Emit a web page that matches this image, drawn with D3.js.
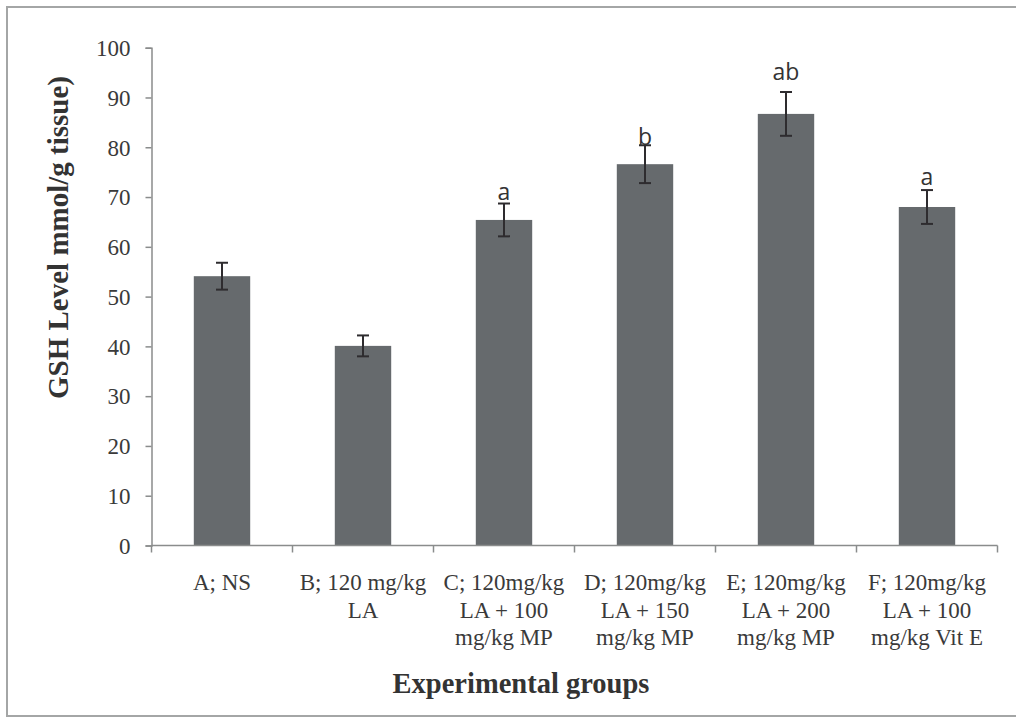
<!DOCTYPE html>
<html>
<head>
<meta charset="utf-8">
<script src="https://cdn.jsdelivr.net/npm/d3@7"></script>
<style>
  body { margin: 0; background: #fff; }
  svg { display: block; }
</style>
</head>
<body>
<div id="chart"></div>
<script>
// Data
var groups    = ['A', 'B', 'C', 'D', 'E', 'F']
var labels    = [
    ['A; NS'],
    ['B; 120 mg/kg', 'LA'],
    ['C; 120mg/kg', 'LA + 100', 'mg/kg MP'],
    ['D; 120mg/kg', 'LA + 150', 'mg/kg MP'],
    ['E; 120mg/kg', 'LA + 200', 'mg/kg MP'],
    ['F; 120mg/kg', 'LA + 100', 'mg/kg Vit E']
]
var gsh       = [54.1, 40.1, 65.4, 76.6, 86.7, 68.0]
var gsh_err   = [2.7, 2.1, 3.3, 3.8, 4.4, 3.4]
var letters   = ['', '', 'a', 'b', 'ab', 'a']
var letter_at = [0, 0, 69.5, 80.5, 93.5, 72.5]   // value where each letter sits
var y_ticks   = [0, 10, 20, 30, 40, 50, 60, 70, 80, 90, 100]

var width  = 1016
var height = 717

var x = d3.scaleBand()
    .domain(groups)
    .range([151.5, 997.5])
    .paddingInner(0.6)
    .paddingOuter(0.3)
var xTick = d3.scaleLinear().domain([0, groups.length]).range([151.5, 997.5])

var y = d3.scaleLinear().domain([0, 100]).range([545.5, 47.7])

var svg = d3.select('#chart').append('svg')
    .attr('width',  width)
    .attr('height', height)

// frame
svg.append('rect')
    .attr('x', 7).attr('y', 7)
    .attr('width', 1016).attr('height', 709)
    .attr('fill', 'none')
    .attr('stroke', '#a4a6a6')
    .attr('stroke-width', 2)

// y axis
var yAxis = svg.append('g')
    .attr('transform', 'translate(151.5,0)')
    .call(d3.axisLeft(y).tickValues(y_ticks).tickSize(6).tickPadding(15).tickFormat(d3.format('d')))
yAxis.select('.domain').attr('stroke', '#8a8c8c').attr('stroke-width', 1.5)
yAxis.selectAll('.tick line').attr('stroke', '#8a8c8c').attr('stroke-width', 1.5)
yAxis.selectAll('.tick text')
    .attr('font-family', '"Liberation Serif", "Times New Roman", serif')
    .attr('font-size', 23)
    .attr('fill', '#3a3a3a')
    .attr('dy', '0.34em')

// bars
svg.selectAll('rect.bar').data(groups).enter()
    .append('rect')
    .attr('class', 'bar')
    .attr('x',      d => x(d))
    .attr('width',  x.bandwidth())
    .attr('y',      (d, i) => y(gsh[i]))
    .attr('height', (d, i) => y(0) - y(gsh[i]))
    .attr('fill', '#666a6d')

// x axis
svg.append('line')
    .attr('x1', 151.5).attr('x2', 997.5)
    .attr('y1', y(0)).attr('y2', y(0))
    .attr('stroke', '#8a8c8c').attr('stroke-width', 1.5)
svg.selectAll('line.xtick').data(d3.range(groups.length + 1)).enter()
    .append('line')
    .attr('class', 'xtick')
    .attr('x1', d => xTick(d)).attr('x2', d => xTick(d))
    .attr('y1', y(0)).attr('y2', y(0) + 7)
    .attr('stroke', '#8a8c8c').attr('stroke-width', 1.5)

// error bars
var err = svg.selectAll('g.err').data(groups).enter()
    .append('g')
    .attr('class', 'err')
    .attr('stroke', '#2e2c2f')
    .attr('stroke-width', 2)
err.append('line')
    .attr('x1', d => x(d) + x.bandwidth() / 2).attr('x2', d => x(d) + x.bandwidth() / 2)
    .attr('y1', (d, i) => y(gsh[i] + gsh_err[i]))
    .attr('y2', (d, i) => y(gsh[i] - gsh_err[i]))
err.append('line')
    .attr('x1', d => x(d) + x.bandwidth() / 2 - 6).attr('x2', d => x(d) + x.bandwidth() / 2 + 6)
    .attr('y1', (d, i) => y(gsh[i] + gsh_err[i]))
    .attr('y2', (d, i) => y(gsh[i] + gsh_err[i]))
err.append('line')
    .attr('x1', d => x(d) + x.bandwidth() / 2 - 6).attr('x2', d => x(d) + x.bandwidth() / 2 + 6)
    .attr('y1', (d, i) => y(gsh[i] - gsh_err[i]))
    .attr('y2', (d, i) => y(gsh[i] - gsh_err[i]))

// significance letters
svg.selectAll('text.letter').data(groups).enter()
    .append('text')
    .attr('class', 'letter')
    .attr('x', d => x(d) + x.bandwidth() / 2)
    .attr('y', (d, i) => y(letter_at[i]))
    .attr('text-anchor', 'middle')
    .attr('font-family', '"Open Sans", "DejaVu Sans", sans-serif')
    .attr('font-size', 23)
    .attr('fill', '#333')
    .text((d, i) => letters[i])

// category labels
var cat = svg.selectAll('text.cat').data(groups).enter()
    .append('text')
    .attr('class', 'cat')
    .attr('text-anchor', 'middle')
    .attr('font-family', '"Liberation Serif", "Times New Roman", serif')
    .attr('font-size', 23)
    .attr('fill', '#3a3a3a')
cat.selectAll('tspan').data((d, i) => labels[i].map(l => ({ g: d, l: l }))).enter()
    .append('tspan')
    .attr('x', d => x(d.g) + x.bandwidth() / 2)
    .attr('y', (d, j) => 590 + j * 27.5)
    .text(d => d.l)

// axis titles
svg.append('text')
    .attr('x', 521).attr('y', 693)
    .attr('text-anchor', 'middle')
    .attr('font-family', '"Liberation Serif", "Times New Roman", serif')
    .attr('font-weight', 'bold')
    .attr('font-size', 28.5)
    .attr('fill', '#333')
    .text('Experimental groups')

svg.append('text')
    .attr('transform', 'translate(68,237.5) rotate(-90)')
    .attr('text-anchor', 'middle')
    .attr('font-family', '"Liberation Serif", "Times New Roman", serif')
    .attr('font-weight', 'bold')
    .attr('font-size', 29)
    .attr('fill', '#333')
    .text('GSH Level mmol/g tissue)')
</script>
</body>
</html>
